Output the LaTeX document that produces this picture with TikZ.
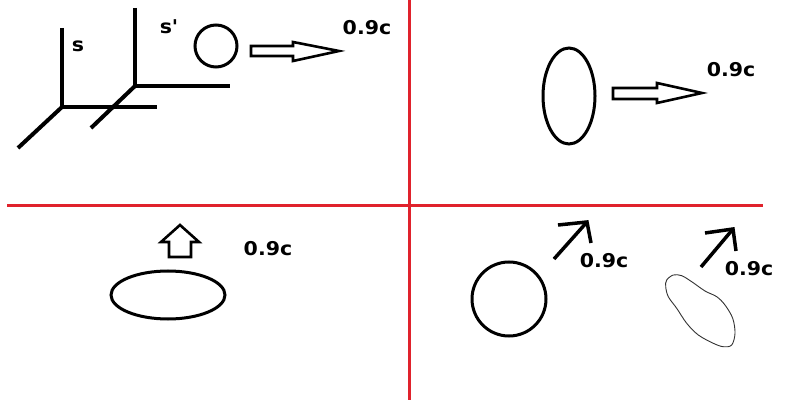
\documentclass[tikz,border=0pt]{standalone}
\usepackage{fontspec}
\setmainfont{DejaVu Sans}[Ligatures=TeXOff]
\definecolor{divred}{HTML}{E0222C}
\begin{document}
\begin{tikzpicture}[x=1pt,y=-1pt,
  axis/.style={line width=4pt,line cap=butt},
  outl/.style={line width=3pt},
  hollow/.style={line width=2.6pt,line join=miter},
  thinline/.style={line width=0.9pt,black!80},
  lbl/.style={font=\fontsize{19}{21}\selectfont\bfseries,inner sep=0pt,xscale=1.08}]
\useasboundingbox[fill=white] (0,0) rectangle (800,403);
% dividers
\draw[divred,line width=3pt] (409,0) -- (409,400);
\draw[divred,line width=3pt] (7,206) -- (763,206);
% top-left frames
\coordinate (o1) at (62,107);
\coordinate (o2) at (135,86);
\draw[axis] (62,28) -- (o1) -- (157,107);
\draw[axis] (o1) -- (18,148);
\draw[axis] (135,8) -- (o2) -- (230,86);
\draw[axis] (o2) -- (91,128);
\node[lbl] (ls) at (78,46) {s};
\node[lbl] (ls2) at (169,27) {s'};
\draw[outl] (216,46) circle (21);
\draw[hollow] (251,46) -- (293,46) -- (293,42) -- (339,51) -- (293,61) -- (293,56) -- (251,56) -- cycle;
\node[lbl] (v1) at (367,28) {0.9c};
% top-right
\draw[outl] (569,96) ellipse (26 and 48);
\draw[hollow] (613,88) -- (657,88) -- (657,83) -- (702,93) -- (657,103) -- (657,99) -- (613,99) -- cycle;
\node[lbl] (v2) at (731,70) {0.9c};
% bottom-left
\draw[hollow] (169,257) -- (169,242) -- (161,242) -- (180,225) -- (199,242) -- (191,242) -- (191,257) -- cycle;
\draw[outl] (168,295) ellipse (57 and 24);
\node[lbl] (v3) at (268,249) {0.9c};
% bottom-right
\draw[outl] (509,299) circle (37);
\draw[axis,line width=3.5pt] (554,259) -- (587,222);
\draw[axis,line width=3.5pt,line join=miter] (558,225) -- (587,222) -- (591,243);
\node[lbl] (v4) at (604,261) {0.9c};
\draw[axis,line width=3.5pt] (701,267) -- (733,229);
\draw[axis,line width=3.5pt,line join=miter] (705,233) -- (733,229) -- (736,251);
\node[lbl] (v5) at (749,269) {0.9c};
\draw[thinline] plot[smooth cycle,tension=0.55] coordinates {(666.7,280) (673.3,275) (681.7,275.7) (691.7,281.7) (705,291) (716.7,296.7) (725,305) (732.7,318.3) (735,333.3) (731.7,345) (723.3,346.7) (713.3,343.3) (698.3,335) (686.7,323.3) (676.7,308.3) (668.3,296.7) (665.7,286.7)};
\end{tikzpicture}
\end{document}
